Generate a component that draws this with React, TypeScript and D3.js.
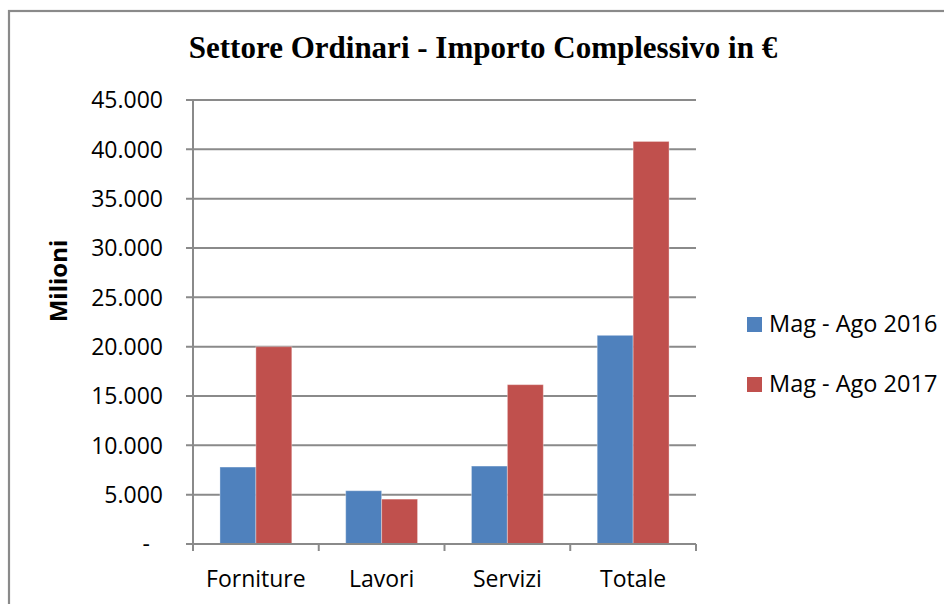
import React from 'react';
import * as d3 from 'd3';

const categories = ['Forniture', 'Lavori', 'Servizi', 'Totale'];
const seriesNames = ['Mag - Ago 2016', 'Mag - Ago 2017'];
const values2016 = [7800, 5400, 7900, 21150];
const values2017 = [20000, 4550, 16150, 40800];
const yTicks = [0, 5000, 10000, 15000, 20000, 25000, 30000, 35000, 40000, 45000];
const colors = ['#4F81BD', '#C0504D'];

const W = 944;
const H = 604;
const margin = { left: 193, right: 696, top: 100, bottom: 544 };
const font = "'Open Sans', 'Liberation Sans', sans-serif";
const grey = '#8a8a8a';

const it = d3.formatLocale({ decimal: ',', thousands: '.', grouping: [3], currency: ['€', ''] });
const fmt = it.format(',.0f');

export default function App() {
  const x = d3.scaleBand().domain(categories).range([margin.left, margin.right]).paddingInner(0).paddingOuter(0);
  const xs = d3.scaleBand().domain(seriesNames).range([0, x.bandwidth()]).paddingInner(0).paddingOuter(0.75);
  const y = d3.scaleLinear().domain([0, 45000]).range([margin.bottom, margin.top]);

  const series = [values2016, values2017];

  return (
    <svg width={W} height={H} style={{ position: 'absolute', left: 0, top: 0, background: '#fff' }}>
      {/* chart frame: only top and left edges are visible */}
      <rect x={9} y={11} width={W + 20} height={H + 20} fill="#fff" stroke={grey} strokeWidth={2.2} />

      <text x={483} y={58} textAnchor="middle" fontFamily="'Liberation Serif', serif" fontWeight="bold" fontSize={31}>
        Settore Ordinari - Importo Complessivo in €
      </text>

      {/* gridlines + y ticks */}
      {yTicks.map(t => (
        <g key={t}>
          <line x1={margin.left - 7} x2={t === 0 ? margin.left : margin.right} y1={y(t)} y2={y(t)} stroke={grey} strokeWidth={2} />
          <text
            x={t === 0 ? 150 : 163}
            y={y(t)}
            dy="0.36em"
            textAnchor="end"
            fontFamily={font}
            fontSize={23}
            fill="#000"
          >
            {t === 0 ? '-' : fmt(t)}
          </text>
        </g>
      ))}

      {/* bars */}
      {categories.map((c, i) => (
        <g key={c} transform={`translate(${x(c)},0)`}>
          {series.map((s, j) => (
            <rect
              key={j}
              x={xs(seriesNames[j])}
              y={y(s[i])}
              width={xs.bandwidth()}
              height={y(0) - y(s[i])}
              fill={colors[j]}
              stroke="#ffffff"
              strokeOpacity={0.35}
              strokeWidth={1}
            />
          ))}
        </g>
      ))}

      {/* axes */}
      <line x1={margin.left} x2={margin.left} y1={margin.top} y2={margin.bottom + 7} stroke={grey} strokeWidth={2} />
      <line x1={margin.left} x2={margin.right} y1={margin.bottom} y2={margin.bottom} stroke={grey} strokeWidth={2} />
      {categories.map(c => (
        <line key={c} x1={(x(c) as number) + x.bandwidth()} x2={(x(c) as number) + x.bandwidth()} y1={margin.bottom} y2={margin.bottom + 7} stroke={grey} strokeWidth={2} />
      ))}
      {categories.map(c => (
        <text key={c} x={(x(c) as number) + x.bandwidth() / 2} y={587} textAnchor="middle" fontFamily={font} fontSize={23}>
          {c}
        </text>
      ))}

      <text transform="translate(67,281) rotate(-90)" textAnchor="middle" fontFamily={font} fontWeight="bold" fontSize={24}>
        Milioni
      </text>

      {/* legend */}
      {seriesNames.map((n, j) => (
        <g key={n} transform={`translate(747,${317 + j * 60})`}>
          <rect width={15} height={15} fill={colors[j]} />
          <text x={22} y={15} fontFamily={font} fontSize={23.5}>
            {n}
          </text>
        </g>
      ))}
    </svg>
  );
}
